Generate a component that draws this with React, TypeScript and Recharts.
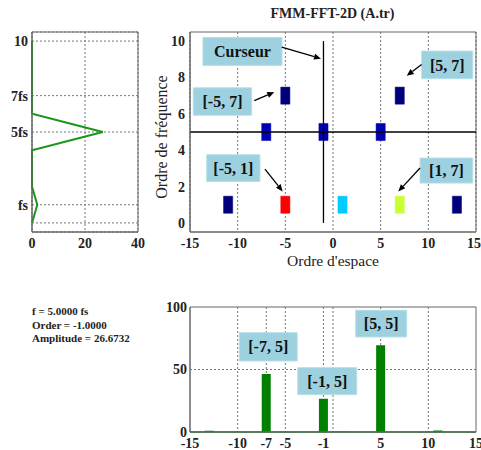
import React from "react";
import {
  LineChart,
  Line,
  ScatterChart,
  BarChart,
  Bar,
  XAxis,
  YAxis,
  CartesianGrid,
  ReferenceArea,
  ReferenceLine,
} from "recharts";

// left spectrum (amplitude vs frequency)
const spectrumFreq = [10, 6, 5, 4, 2, 1, 0];
const spectrumAmp = [0, 0, 26.7, 0, 0, 2, 0];
const freqTicks = [0, 1, 5, 7, 10];
const freqTickLabels = ["", "fs", "5fs", "7fs", "10"];
const ampTicks = [0, 20, 40];

// 2D map cells (space order, frequency order)
const cellOrders = [-11, -5, 1, 7, 13, -7, -1, 5, -5, 7];
const cellFreqs = [1, 1, 1, 1, 1, 5, 5, 5, 7, 7];
const cellColors = ["#00007c", "#ff0000", "#00ccff", "#ccff33", "#00007c", "#0000b4", "#0000b4", "#0000b4", "#00007c", "#00007c"];
const orderTicks = [-15, -10, -5, 0, 5, 10, 15];
const mapFreqTicks = [0, 2, 4, 6, 8, 10];

// cursor
const cursorOrder = -1;
const cursorFreq = 5;
const cursorAmp = 26.6732;

// cut along the cursor frequency
const cutOrders = [-13, -7, -1, 1, 5, 11];
const cutAmps = [1.0, 46.5, 26.7, 0.4, 69.5, 1.3];
const cutTicks = [-15, -10, -7, -5, -1, 5, 10, 15];
const cutGrid = [-10, -7, -5, -1, 0, 5, 10];
const cutAmpTicks = [0, 50, 100];

// annotations: [label, x1, x2, y1, y2, arrow from x, y, to x, y]
const mapNotes: [string, number, number, number, number, number[]][] = [
  ["Curseur", -13.64, -5.35, 8.66, 10.2, [-5.38, 9.67, -1.26, 9.03]],
  ["[5, 7]", 9.3, 14.66, 7.93, 9.45, [9.3, 8.71, 7.73, 8.1]],
  ["[-5, 7]", -14.66, -8.53, 5.92, 7.43, [-8.26, 6.73, -6.16, 7.19]],
  ["[-5, 1]", -13.25, -7.66, 2.28, 3.75, [-7.14, 2.96, -5.28, 1.73]],
  ["[1, 7]", 9.13, 14.66, 2.19, 3.57, [9.13, 3.02, 6.85, 1.73]],
];
const cutNotes: [string, number, number, number, number][] = [
  ["[-7, 5]", -9.83, -3.75, 56.8, 79.5],
  ["[-1, 5]", -3.7, 2.49, 29.9, 51.5],
  ["[5, 5]", 2.38, 7.73, 76, 97.4],
];

const FONT = "'Liberation Serif', 'DejaVu Serif', serif";
const tickStyle = { fontSize: 14, fontWeight: 700, fill: "#222", fontFamily: FONT };
const axisColor = "#666";
const gridColor = "#777";
const boxFill = "#9dd1df";
const boxLabel = (value: string) => ({
  value,
  position: "center" as const,
  fontSize: 16,
  fontWeight: 700,
  fill: "#111",
  fontFamily: FONT,
});

const Arrow = (p: any) => {
  const { x1, y1, x2, y2 } = p;
  const a = Math.atan2(y2 - y1, x2 - x1);
  const L = 7;
  const W = 3;
  const bx = x2 - L * Math.cos(a);
  const by = y2 - L * Math.sin(a);
  const pts = `${x2},${y2} ${bx - W * Math.sin(a)},${by + W * Math.cos(a)} ${bx + W * Math.sin(a)},${by - W * Math.cos(a)}`;
  return (
    <g>
      <line x1={x1} y1={y1} x2={bx} y2={by} stroke="#000" strokeWidth={1.3} />
      <polygon points={pts} fill="#000" />
    </g>
  );
};

const spectrumData = spectrumFreq.map((f, i) => ({ amp: spectrumAmp[i], freq: f }));
const cutData = cutOrders.map((o, i) => ({ order: o, amp: cutAmps[i] }));

const abs = (left: number, top: number): React.CSSProperties => ({ position: "absolute", left, top });

export default function App() {
  return (
    <div style={{ position: "absolute", left: 0, top: 0, width: 481, height: 450, background: "#fff", fontFamily: FONT }}>
      {/* left spectrum */}
      <div style={abs(0, 0)}>
        <LineChart width={145} height={260} data={spectrumData} margin={{ top: 32, right: 7, left: 0, bottom: 0 }}>
          <CartesianGrid stroke={gridColor} strokeDasharray="2 2" />
          <XAxis
            dataKey="amp"
            type="number"
            domain={[0, 40]}
            ticks={ampTicks}
            tickLine={false}
            tickSize={4}
            height={28}
            stroke={axisColor}
            tick={tickStyle}
          />
          <YAxis
            type="number"
            domain={[-0.5, 10.5]}
            ticks={freqTicks}
            tickFormatter={(v: number) => freqTickLabels[freqTicks.indexOf(v)]}
            tickLine={false}
            tickSize={2}
            width={32}
            stroke={axisColor}
            tick={tickStyle}
            allowDataOverflow
          />
          <Line dataKey="freq" stroke="#1a961a" strokeWidth={2} dot={false} isAnimationActive={false} />
          <ReferenceArea x1={0} x2={40} y1={-0.5} y2={10.5} fill="none" stroke={axisColor} />
        </LineChart>
      </div>

      {/* 2D map */}
      <div style={{ ...abs(160, 6), width: 345, textAlign: "center", fontSize: 14, fontWeight: 700, color: "#222" }}>
        FMM-FFT-2D (A.tr)
      </div>
      <div style={abs(150, 0)}>
        <ScatterChart width={331} height={270} margin={{ top: 32, right: 5, left: 0, bottom: 0 }}>
          <CartesianGrid stroke={gridColor} strokeDasharray="2 2" horizontal={false} />
          <XAxis
            dataKey="x"
            type="number"
            domain={[-15, 15]}
            ticks={orderTicks}
            tickLine={false}
            tickSize={4}
            height={38}
            stroke={axisColor}
            tick={tickStyle}
            allowDataOverflow
          />
          <YAxis
            dataKey="y"
            type="number"
            domain={[-0.5, 10.5]}
            ticks={mapFreqTicks}
            tickLine={false}
            tickSize={3}
            width={40}
            stroke={axisColor}
            tick={tickStyle}
            allowDataOverflow
          />
          {cellOrders.map((o, i) => (
            <ReferenceArea
              key={"c" + i}
              x1={o - 0.48}
              x2={o + 0.48}
              y1={cellFreqs[i] - 0.47}
              y2={cellFreqs[i] + 0.47}
              fill={cellColors[i]}
              fillOpacity={1}
              stroke={cellColors[i]}
              strokeOpacity={0.5}
            />
          ))}
          <ReferenceLine y={cursorFreq} stroke="#000" strokeWidth={1.3} />
          <ReferenceLine segment={[{ x: cursorOrder, y: 0 }, { x: cursorOrder, y: 10 }]} stroke="#000" strokeWidth={1.3} />
          {mapNotes.map(([t, x1, x2, y1, y2]) => (
            <ReferenceArea key={t} x1={x1} x2={x2} y1={y1} y2={y2} fill={boxFill} fillOpacity={1} stroke="#b8e0ea" label={boxLabel(t)} />
          ))}
          {mapNotes.map(([t, , , , , a]) => (
            <ReferenceLine key={"a" + t} segment={[{ x: a[0], y: a[1] }, { x: a[2], y: a[3] }]} shape={Arrow} />
          ))}
          <ReferenceArea x1={-15} x2={15} y1={-0.5} y2={10.5} fill="none" stroke={axisColor} />
        </ScatterChart>
      </div>
      <div
        style={{
          ...abs(162 - 80, 137 - 9),
          width: 160,
          height: 18,
          textAlign: "center",
          fontSize: 16,
          color: "#222",
          transform: "rotate(-90deg)",
          lineHeight: "18px",
        }}
      >
        Ordre de fréquence
      </div>
      <div style={{ ...abs(190, 253), width: 286, textAlign: "center", fontSize: 15.5, color: "#222", lineHeight: "16px" }}>
        Ordre d'espace
      </div>

      {/* cursor readout */}
      <div style={{ ...abs(32, 305), fontSize: 11, fontWeight: 700, color: "#222", lineHeight: "13.5px" }}>
        <div>f = {cursorFreq.toFixed(4)} fs</div>
        <div>Order = {cursorOrder.toFixed(4)}</div>
        <div>Amplitude = {cursorAmp.toFixed(4)}</div>
      </div>

      {/* cut at cursor frequency */}
      <div style={abs(150, 290)}>
        <BarChart width={331} height={160} data={cutData} margin={{ top: 17, right: 5, left: 0, bottom: 0 }}>
          <CartesianGrid stroke={gridColor} strokeDasharray="2 2" verticalValues={cutGrid} horizontalValues={[50]} />
          <XAxis
            dataKey="order"
            type="number"
            domain={[-15, 15]}
            ticks={cutTicks}
            tickLine={false}
            tickSize={5}
            tickMargin={1}
            height={18}
            stroke={axisColor}
            tick={tickStyle}
            interval={0}
            allowDataOverflow
          />
          <YAxis
            type="number"
            domain={[0, 100]}
            ticks={cutAmpTicks}
            tickLine={false}
            tickSize={1}
            width={40}
            stroke={axisColor}
            tick={tickStyle}
          />
          <Bar dataKey="amp" fill="#008000" barSize={9} isAnimationActive={false} />
          <ReferenceLine y={0} stroke="#2e7d2e" strokeWidth={1.5} />
          {cutNotes.map(([t, x1, x2, y1, y2]) => (
            <ReferenceArea key={t} x1={x1} x2={x2} y1={y1} y2={y2} fill={boxFill} fillOpacity={1} stroke="#b8e0ea" label={boxLabel(t)} />
          ))}
          <ReferenceArea x1={-15} x2={15} y1={0} y2={100} fill="none" stroke={axisColor} />
        </BarChart>
      </div>
    </div>
  );
}
